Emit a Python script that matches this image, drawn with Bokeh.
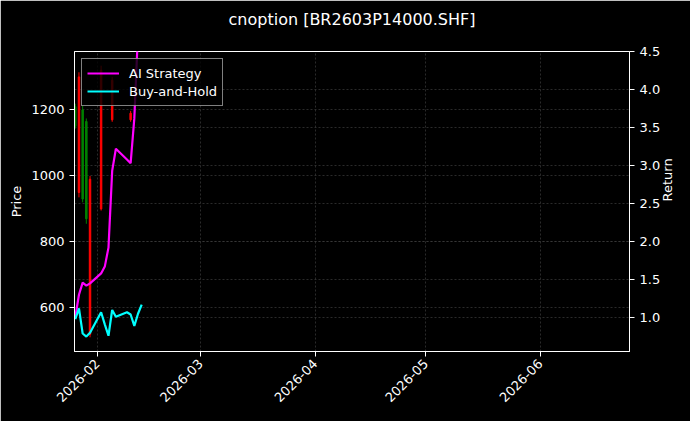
from datetime import datetime, timedelta
from math import pi

from bokeh.plotting import figure
from bokeh.models import (Range1d, LinearAxis, Grid, FixedTicker, DatetimeTickFormatter,
                          NumeralTickFormatter, Legend, LegendItem)
from bokeh.embed import file_html
from bokeh.resources import INLINE

title = "cnoption [BR2603P14000.SHF]"

# daily bars of the option (only the days that show on the chart)
candle_dates = [datetime(2026, 1, 26), datetime(2026, 1, 27), datetime(2026, 1, 28),
                datetime(2026, 1, 29), datetime(2026, 1, 30), datetime(2026, 2, 2),
                datetime(2026, 2, 5), datetime(2026, 2, 10)]
opens = [1210, 950, 1200, 1165, 520, 900, 1170, 1170]
highs = [1219, 1314, 1213, 1174, 1000, 1334, 1300, 1197]
lows = [1143, 935, 920, 855, 511, 895, 1164, 1164]
closes = [1150, 1300, 930, 870, 990, 1320, 1290, 1190]

# cumulative returns
curve_dates = [datetime(2026, 1, 26), datetime(2026, 1, 27), datetime(2026, 1, 28),
               datetime(2026, 1, 29), datetime(2026, 1, 30), datetime(2026, 2, 2),
               datetime(2026, 2, 3), datetime(2026, 2, 4), datetime(2026, 2, 5),
               datetime(2026, 2, 6), datetime(2026, 2, 9), datetime(2026, 2, 10),
               datetime(2026, 2, 11), datetime(2026, 2, 12), datetime(2026, 2, 13)]
ai_strategy = [1.0, 1.30, 1.46, 1.42, 1.45, 1.58, 1.67, 1.92, 2.93, 3.22, 3.08, 3.03, 3.62, 4.75, 5.2]
buy_and_hold = [0.98, 1.12, 0.79, 0.75, 0.80, 1.07, 0.91, 0.76, 1.10, 1.01, 1.07, 1.04, 0.89, 1.05, 1.17]

month_ticks = [datetime(2026, 2, 1), datetime(2026, 3, 1), datetime(2026, 4, 1),
               datetime(2026, 5, 1), datetime(2026, 6, 1)]
price_ticks = [600, 800, 1000, 1200]
return_ticks = [1.0, 1.5, 2.0, 2.5, 3.0, 3.5, 4.0, 4.5]

x_start = datetime(2026, 1, 25, 19)
x_end = datetime(2026, 6, 25, 4)

font = "DejaVu Sans"
grid_color = "#3c3c3c"

# blank second line keeps the title up near the top edge, as in matplotlib
p = figure(title=title + "\n ", width=690, height=421, x_axis_type="datetime",
           x_range=Range1d(x_start, x_end), y_range=Range1d(468, 1377),
           output_backend="svg", toolbar_location=None,
           min_border_left=74, min_border_right=61, min_border_top=51, min_border_bottom=70,
           background_fill_color="black", border_fill_color="black",
           outline_line_color="white")
p.extra_y_ranges = {"ret": Range1d(0.553, 4.5)}

p.title.align = "center"
p.title.vertical_align = "top"
p.title.text_color = "white"
p.title.text_font = font
p.title.text_font_size = "16px"
p.title.text_font_style = "normal"
p.title.standoff = 4

# candles
colors = ["red" if c >= o else "green" for o, c in zip(opens, closes)]
p.segment(x0=candle_dates, y0=lows, x1=candle_dates, y1=highs, color=colors, line_width=1)
p.vbar(x=candle_dates, width=timedelta(days=0.4), top=[max(o, c) for o, c in zip(opens, closes)],
       bottom=[min(o, c) for o, c in zip(opens, closes)], color=colors)

ai_line = p.line(curve_dates, ai_strategy, y_range_name="ret", color="#ff00ff", line_width=2.2)
bh_line = p.line(curve_dates, buy_and_hold, y_range_name="ret", color="#00ffff", line_width=2.2)

# axes
p.xaxis.ticker = FixedTicker(ticks=[d.timestamp() * 1000 for d in month_ticks])
p.xaxis.formatter = DatetimeTickFormatter(days="%Y-%m", months="%Y-%m", years="%Y-%m")
p.xaxis.major_label_orientation = pi / 4
p.yaxis.ticker = FixedTicker(ticks=price_ticks)
p.yaxis.axis_label = "Price"

right = LinearAxis(y_range_name="ret", ticker=FixedTicker(ticks=return_ticks),
                   formatter=NumeralTickFormatter(format="0.0"), axis_label="Return")
right.axis_label_orientation = pi / 2
p.add_layout(right, "right")

for ax in [p.xaxis[0], p.yaxis[0], right]:
    ax.axis_line_color = "white"
    ax.major_tick_line_color = "white"
    ax.major_tick_out = 5
    ax.major_tick_in = 0
    ax.minor_tick_line_color = None
    ax.major_label_text_color = "white"
    ax.major_label_text_font = font
    ax.major_label_text_font_size = "13px"
    ax.axis_label_text_color = "white"
    ax.axis_label_text_font = font
    ax.axis_label_text_font_size = "13px"
    ax.axis_label_text_font_style = "normal"
    ax.axis_label_standoff = 11
p.yaxis.axis_label_standoff = 4

# grids for both y axes
for g in [p.xgrid[0], p.ygrid[0]]:
    g.grid_line_color = grid_color
    g.grid_line_dash = "2 2"
    g.grid_line_width = 0.7
rgrid = Grid(dimension=1, ticker=right.ticker, y_range_name="ret",
             grid_line_color=grid_color, grid_line_dash="2 2", grid_line_width=0.7)
p.add_layout(rgrid)

legend = Legend(items=[LegendItem(label="AI Strategy", renderers=[ai_line]),
                       LegendItem(label="Buy-and-Hold", renderers=[bh_line])],
                location="top_left", margin=7, padding=5, spacing=0,
                glyph_width=32, glyph_height=18, label_height=18, label_standoff=10,
                background_fill_color="black", background_fill_alpha=0.8,
                border_line_color="white", border_line_width=1,
                label_text_color="white", label_text_font=font, label_text_font_size="13px")
p.add_layout(legend)

open("out.html", "w").write(file_html(p, INLINE))
